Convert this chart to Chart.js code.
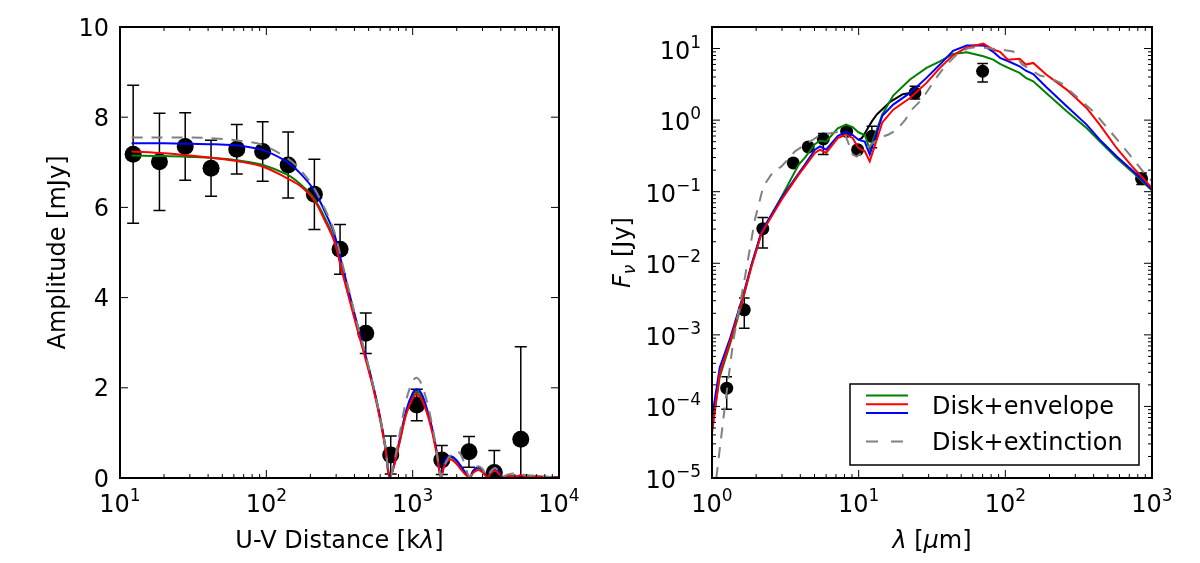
<!DOCTYPE html>
<html>
<head>
<meta charset="utf-8">
<script src="https://cdn.jsdelivr.net/npm/chart.js@4.4.1/dist/chart.umd.min.js"></script>
<style>
  html, body { margin: 0; padding: 0; background: #fff; }
  #wrap { width: 1200px; height: 563px; display: flex; }
  .panel { position: relative; width: 600px; height: 563px; }
</style>
</head>
<body>
<div id="wrap">
  <div class="panel"><canvas id="visChart"></canvas></div>
  <div class="panel"><canvas id="sedChart"></canvas></div>
</div>
<script>
// ---- left panel: visibility amplitude vs uv distance ----
const visX   = [12.3, 18.6, 27.9, 41.9, 62.8, 94.4, 141, 213, 319, 478, 708, 1067, 1582, 2426, 3613, 5480];
const visAmp = [7.18, 7.01, 7.35, 6.87, 7.29, 7.24, 6.94, 6.29, 5.07, 3.21, 0.51, 1.62, 0.40, 0.58, 0.12, 0.86];
const visErr = [1.53, 1.08, 0.75, 0.62, 0.55, 0.66, 0.73, 0.78, 0.55, 0.45, 0.42, 0.35, 0.32, 0.34, 0.49, 2.05];

const uvDist = [12, 20, 30, 45, 65, 95, 140, 170, 210, 250, 290, 330, 370, 420, 480, 540, 600, 650, 700,
  800, 900, 1000, 1070, 1150, 1250, 1350, 1450, 1560,
  1640, 1720, 1810, 1900, 2000, 2150, 2440,
  2600, 2800, 3000, 3240,
  3420, 3650, 3880, 4130,
  4500, 5000, 5500, 6200, 7000, 8500, 10000];
const ampGreen = [7.15, 7.14, 7.12, 7.09, 7.04, 6.94, 6.72, 6.52, 6.22, 5.78, 5.30, 4.60, 3.99, 3.32, 2.64, 2.00, 1.33, 0.72, 0.06,
  0.70, 1.42, 1.82, 1.91, 1.81, 1.50, 1.11, 0.62, 0.04,
  0.30, 0.42, 0.46, 0.43, 0.37, 0.24, 0.02,
  0.15, 0.22, 0.16, 0.02,
  0.14, 0.19, 0.13, 0.02,
  0.06, 0.03, 0.04, 0.02, 0.03, 0.02, 0.01];
const ampRed = [7.24, 7.20, 7.15, 7.09, 7.02, 6.90, 6.64, 6.48, 6.18, 5.72, 5.26, 4.56, 3.95, 3.28, 2.60, 1.96, 1.28, 0.66, 0.02,
  0.69, 1.40, 1.76, 1.86, 1.74, 1.45, 1.06, 0.58, 0.02,
  0.25, 0.37, 0.41, 0.38, 0.31, 0.18, 0.01,
  0.12, 0.18, 0.13, 0.01,
  0.11, 0.16, 0.10, 0.01,
  0.05, 0.03, 0.06, 0.02, 0.04, 0.02, 0.01];
const ampBlue = [7.42, 7.42, 7.41, 7.40, 7.37, 7.27, 7.00, 6.76, 6.40, 5.92, 5.43, 4.72, 4.08, 3.38, 2.68, 2.02, 1.33, 0.69, 0.03,
  0.74, 1.48, 1.88, 1.97, 1.87, 1.54, 1.14, 0.64, 0.02,
  0.33, 0.45, 0.49, 0.46, 0.39, 0.25, 0.02,
  0.17, 0.24, 0.18, 0.01,
  0.15, 0.21, 0.14, 0.01,
  0.05, 0.03, 0.04, 0.02, 0.03, 0.02, 0.01];
const ampExt = [7.55, 7.55, 7.55, 7.53, 7.48, 7.38, 7.08, 6.84, 6.45, 5.98, 5.48, 4.77, 4.12, 3.40, 2.70, 2.03, 1.34, 0.70, 0.03,
  0.85, 1.70, 2.15, 2.22, 2.08, 1.70, 1.22, 0.66, 0.03,
  0.25, 0.40, 0.50, 0.57, 0.60, 0.50, 0.03,
  0.18, 0.26, 0.20, 0.03,
  0.15, 0.22, 0.15, 0.04,
  0.08, 0.10, 0.08, 0.06, 0.05, 0.03, 0.02];
const uvTickExp = [1, 2, 3, 4];
const ampTicks = [0, 2, 4, 6, 8, 10];

// ---- right panel: SED ----
const sedX  = [1.26, 1.66, 2.22, 3.58, 4.53, 5.74, 8.28, 9.84, 12.3, 24.2, 70.0, 849];
const sedF  = [1.8e-4, 2.24e-3, 0.0304, 0.252, 0.422, 0.546, 0.697, 0.387, 0.593, 2.40, 4.82, 0.152];
const sedLo = [9.1e-5, 1.24e-3, 0.0163, 0.252, 0.422, 0.33, 0.697, 0.387, 0.41, 1.98, 3.42, 0.126];
const sedHi = [2.6e-4, 3.26e-3, 0.0437, 0.252, 0.422, 0.65, 0.697, 0.387, 0.82, 2.97, 6.17, 0.182];

const sedLam = [1.0, 1.13, 1.33, 1.59, 1.86, 2.18, 2.98, 3.9, 4.3, 5.03, 5.45, 6.0, 7.2, 8.2, 9.1, 9.95, 11.0, 11.9,
  14.5, 17.2, 22.4, 29, 35.8, 44, 54.5, 70.8, 82.7, 92, 104, 125, 138, 155, 190, 262, 358, 440, 573, 748, 1000];
const sedGreen = [5e-5, 2.6e-4, 7.5e-4, 2.6e-3, 9.5e-3, 0.027, 0.085, 0.24, 0.30, 0.46, 0.52, 0.50, 0.77, 0.865, 0.80, 0.676, 0.62, 0.395,
  1.2, 2.2, 3.7, 5.37, 6.6, 8.4, 8.9, 7.8, 7.0, 6.11, 5.4, 4.57, 3.9, 3.49, 2.4, 1.33, 0.778, 0.506, 0.296, 0.183, 0.104];
const sedRed = [4.2e-5, 2.9e-4, 8.1e-4, 2.77e-3, 9.0e-3, 0.0264, 0.0773, 0.173, 0.226, 0.348, 0.387, 0.348, 0.56, 0.627, 0.564, 0.408, 0.37, 0.265,
  0.93, 1.40, 2.04, 3.31, 5.37, 8.05, 10.4, 11.7, 9.7, 9.0, 7.0, 7.2, 5.97, 6.3, 4.33, 2.67, 1.48, 0.865, 0.408, 0.214, 0.113];
const sedBlue = [7e-5, 3.5e-4, 9.0e-4, 3.0e-3, 9.5e-3, 0.028, 0.082, 0.18, 0.24, 0.387, 0.43, 0.387, 0.60, 0.684, 0.62, 0.533, 0.50, 0.33,
  1.15, 1.65, 2.40, 3.89, 5.97, 9.3, 11.0, 11.1, 9.0, 7.41, 6.7, 5.65, 4.9, 4.4, 2.9, 1.56, 0.865, 0.533, 0.312, 0.192, 0.107];
const blackLam = [9.95, 10.5, 11.0, 12.3, 13.3, 16.4, 20.0, 22.4];
const sedBlack = [0.53, 0.56, 0.65, 0.96, 1.2, 1.8, 2.3, 2.4];
const extLam = [1.07, 1.10, 1.23, 1.40, 1.68, 1.96, 2.24, 2.62, 2.98, 3.68, 4.5, 5.31, 6.5, 7.65, 8.0, 8.5, 9.1, 9.7, 11, 12.5,
  14.3, 16, 18, 20.7, 23, 27, 30, 35, 38.6, 46.5, 55, 62, 75, 87, 100, 113, 130, 150, 172, 200, 240, 300, 397, 518, 672, 870, 1000];
const sedExt = [1.0e-5, 1.6e-5, 1.1e-4, 8.5e-4, 6.5e-3, 0.0406, 0.119, 0.192, 0.226, 0.366, 0.48, 0.594, 0.66, 0.70, 0.66, 0.48, 0.33, 0.31, 0.38, 0.48,
  0.58, 0.63, 0.72, 1.0, 1.4, 1.95, 2.7, 4.3, 5.6, 8.2, 10.0, 10.4, 10.2, 9.8, 9.5, 9.1, 6.0, 5.0, 4.2, 3.9, 3.3, 2.2, 1.33, 0.70, 0.37, 0.19, 0.14];
const lamTickExp = [0, 1, 2, 3];
const fluxTickExp = [-5, -4, -3, -2, -1, 0, 1];

const FAMILY = '"DejaVu Sans", sans-serif';
const font = (px, italic) => (italic ? 'italic ' : '') + px + 'px ' + FAMILY;

function powSegs(n) {
  return [{ text: '10', font: font(24) }, { text: n < 0 ? '\u2212' + (-n) : String(n), font: font(17), dy: -11 }];
}

function minorTicks(exps, min, max) {
  const out = [];
  exps.concat([exps[exps.length - 1] + 1]).forEach(e => {
    for (let k = 2; k < 10; k++) {
      const v = k * Math.pow(10, e);
      if (v > min && v < max) out.push(v);
    }
  });
  return out;
}

function drawRich(ctx, segs, x, y, align) {
  let w = 0;
  segs.forEach(s => { ctx.font = s.font; w += ctx.measureText(s.text).width; });
  let cx = align === 'center' ? x - w / 2 : align === 'right' ? x - w : x;
  ctx.textAlign = 'left';
  ctx.textBaseline = 'alphabetic';
  segs.forEach(s => {
    ctx.font = s.font;
    ctx.fillText(s.text, cx, y + (s.dy || 0));
    cx += ctx.measureText(s.text).width;
  });
}

// frame, inward ticks, labels, error bars, legend (matplotlib classic look)
const framePlugin = {
  id: 'frame',
  beforeDatasetsDraw(chart, args, opts) {
    const eb = opts.errorBars;
    if (!eb) return;
    const { ctx, chartArea: a, scales: { x, y } } = chart;
    ctx.save();
    ctx.beginPath();
    ctx.rect(a.left, a.top, a.right - a.left, a.bottom - a.top);
    ctx.clip();
    ctx.strokeStyle = '#000';
    ctx.lineWidth = 1.5;
    eb.x.forEach((xv, i) => {
      if (eb.hi[i] === eb.lo[i]) return;
      const px = x.getPixelForValue(xv);
      const p1 = y.getPixelForValue(eb.lo[i]);
      const p2 = y.getPixelForValue(eb.hi[i]);
      ctx.beginPath();
      ctx.moveTo(px, p1); ctx.lineTo(px, p2);
      ctx.moveTo(px - eb.cap, p1); ctx.lineTo(px + eb.cap, p1);
      ctx.moveTo(px - eb.cap, p2); ctx.lineTo(px + eb.cap, p2);
      ctx.stroke();
    });
    ctx.restore();
  },
  afterDraw(chart, args, opts) {
    const { ctx, chartArea: a, scales: { x, y } } = chart;
    ctx.save();
    ctx.strokeStyle = '#000';
    ctx.fillStyle = '#000';
    ctx.lineWidth = 1;
    const seg = (x1, y1, x2, y2) => { ctx.beginPath(); ctx.moveTo(x1, y1); ctx.lineTo(x2, y2); ctx.stroke(); };
    const xTick = (v, len) => { const p = x.getPixelForValue(v); seg(p, a.bottom, p, a.bottom - len); seg(p, a.top, p, a.top + len); };
    const yTick = (v, len) => { const p = y.getPixelForValue(v); seg(a.left, p, a.left + len, p); seg(a.right, p, a.right - len, p); };

    opts.xMajor.forEach(v => xTick(v, 8));
    opts.xMinor.forEach(v => xTick(v, 4));
    opts.yMajor.forEach(v => yTick(v, 8));
    opts.yMinor.forEach(v => yTick(v, 4));

    ctx.lineWidth = 2;
    ctx.strokeRect(a.left, a.top, a.right - a.left, a.bottom - a.top);

    // tick labels
    opts.xLabels.forEach(e => drawRich(ctx, powSegs(e), x.getPixelForValue(Math.pow(10, e)), a.bottom + 34, 'center'));
    if (opts.yLog) {
      opts.yLabels.forEach(e => drawRich(ctx, powSegs(e), a.left - 11, y.getPixelForValue(Math.pow(10, e)) + 10, 'right'));
    } else {
      opts.yLabels.forEach(v => drawRich(ctx, [{ text: String(v), font: font(24) }], a.left - 11, y.getPixelForValue(v) + 8.5, 'right'));
    }

    // axis titles
    drawRich(ctx, opts.xTitle, (a.left + a.right) / 2, 548, 'center');
    ctx.save();
    ctx.translate(opts.yTitleX, (a.top + a.bottom) / 2);
    ctx.rotate(-Math.PI / 2);
    drawRich(ctx, opts.yTitle, 0, 0, 'center');
    ctx.restore();

    // legend box in the lower right corner
    const lg = opts.legend;
    if (lg) {
      const bx = a.right - 13 - lg.width, by = a.bottom - 13 - lg.height;
      ctx.fillStyle = '#fff';
      ctx.fillRect(bx, by, lg.width, lg.height);
      ctx.lineWidth = 1.5;
      ctx.strokeRect(bx, by, lg.width, lg.height);
      lg.entries.forEach(en => {
        en.datasets.forEach((di, k) => {
          const ds = chart.data.datasets[di];
          ctx.strokeStyle = ds.borderColor;
          ctx.lineWidth = ds.borderWidth;
          ctx.setLineDash(ds.borderDash ? [12, 13] : []);
          seg(bx + 16, by + en.y + k * 8.7, bx + 58, by + en.y + k * 8.7);
        });
        ctx.setLineDash([]);
        ctx.fillStyle = '#000';
        drawRich(ctx, [{ text: en.label, font: font(24) }], bx + 82, by + en.textY, 'left');
      });
    }
    ctx.restore();
  }
};

function lineSet(label, xs, ys, color, order, extra) {
  return Object.assign({
    label,
    data: xs.map((v, i) => ({ x: v, y: ys[i] })),
    showLine: true,
    borderColor: color,
    backgroundColor: color,
    borderWidth: 2,
    pointRadius: 0,
    pointHoverRadius: 0,
    tension: 0,
    order
  }, extra || {});
}

function pointSet(xs, ys, radius) {
  return {
    label: 'data',
    data: xs.map((v, i) => ({ x: v, y: ys[i] })),
    showLine: false,
    pointRadius: radius,
    pointHoverRadius: radius,
    backgroundColor: '#000',
    borderWidth: 0,
    order: 10
  };
}

const DASH = [11, 9];
const smooth = { tension: 0.35 };

new Chart(document.getElementById('visChart'), {
  type: 'scatter',
  data: {
    datasets: [
      pointSet(visX, visAmp, 8.5),
      lineSet('Disk+envelope', uvDist, ampGreen, '#008000', 4, smooth),
      lineSet('Disk+envelope', uvDist, ampBlue, '#0000ff', 3, smooth),
      lineSet('Disk+envelope', uvDist, ampRed, '#ff0000', 2, smooth),
      lineSet('Disk+extinction', uvDist, ampExt, '#808080', 1, Object.assign({ borderDash: DASH }, smooth))
    ]
  },
  options: {
    responsive: true,
    maintainAspectRatio: false,
    animation: false,
    events: [],
    layout: { padding: { left: 120, right: 41, top: 27, bottom: 85 } },
    scales: {
      x: { type: 'logarithmic', min: 10, max: 1e4, display: false },
      y: { type: 'linear', min: 0, max: 10, display: false }
    },
    plugins: {
      legend: { display: false },
      tooltip: { enabled: false },
      frame: {
        xMajor: uvTickExp.map(e => Math.pow(10, e)),
        xMinor: minorTicks(uvTickExp, 10, 1e4),
        yMajor: ampTicks,
        yMinor: [],
        xLabels: uvTickExp,
        yLabels: ampTicks,
        yLog: false,
        xTitle: [{ text: 'U-V Distance [k', font: font(24) }, { text: '\u03bb', font: font(24, true) }, { text: ']', font: font(24) }],
        yTitle: [{ text: 'Amplitude [mJy]', font: font(24) }],
        yTitleX: 65,
        errorBars: { x: visX, lo: visAmp.map((v, i) => v - visErr[i]), hi: visAmp.map((v, i) => v + visErr[i]), cap: 6 }
      }
    }
  },
  plugins: [framePlugin]
});

new Chart(document.getElementById('sedChart'), {
  type: 'scatter',
  data: {
    datasets: [
      pointSet(sedX, sedF, 6.5),
      lineSet('', blackLam, sedBlack, '#000000', 5),
      lineSet('Disk+envelope', sedLam, sedGreen, '#008000', 4),
      lineSet('Disk+envelope', sedLam, sedBlue, '#0000ff', 3),
      lineSet('Disk+envelope', sedLam, sedRed, '#ff0000', 2),
      lineSet('Disk+extinction', extLam, sedExt, '#808080', 1, { borderDash: DASH })
    ]
  },
  options: {
    responsive: true,
    maintainAspectRatio: false,
    animation: false,
    events: [],
    layout: { padding: { left: 112, right: 48, top: 27, bottom: 85 } },
    scales: {
      x: { type: 'logarithmic', min: 1, max: 1000, display: false },
      y: { type: 'logarithmic', min: 1e-5, max: 20, display: false }
    },
    plugins: {
      legend: { display: false },
      tooltip: { enabled: false },
      frame: {
        xMajor: lamTickExp.map(e => Math.pow(10, e)),
        xMinor: minorTicks(lamTickExp, 1, 1000),
        yMajor: fluxTickExp.map(e => Math.pow(10, e)),
        yMinor: minorTicks(fluxTickExp, 1e-5, 20),
        xLabels: lamTickExp,
        yLabels: fluxTickExp,
        yLog: true,
        xTitle: [{ text: '\u03bb', font: font(24, true) }, { text: ' [', font: font(24) }, { text: '\u03bc', font: font(24, true) }, { text: 'm]', font: font(24) }],
        yTitle: [{ text: 'F', font: font(24, true) }, { text: '\u03bd', font: font(17, true), dy: 5 }, { text: ' [Jy]', font: font(24) }],
        yTitleX: 30,
        errorBars: { x: sedX, lo: sedLo, hi: sedHi, cap: 5.3 },
        legend: {
          width: 289,
          height: 81,
          entries: [
            { label: 'Disk+envelope', datasets: [2, 4, 3], y: 11.5, textY: 29.5 },
            { label: 'Disk+extinction', datasets: [5], y: 57.5, textY: 66 }
          ]
        }
      }
    }
  },
  plugins: [framePlugin]
});
</script>
</body>
</html>
